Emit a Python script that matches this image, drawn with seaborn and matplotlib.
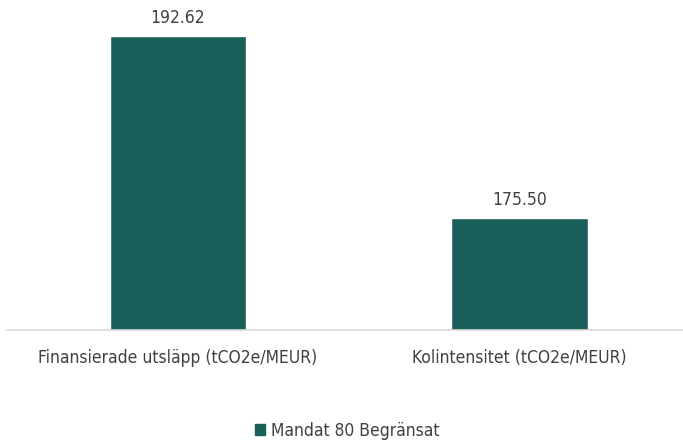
import pandas as pd
import matplotlib.pyplot as plt
import seaborn as sns
from matplotlib.patches import Patch

# Data
categories = ["Finansierade utsläpp (tCO2e/MEUR)", "Kolintensitet (tCO2e/MEUR)"]
values = [192.62, 175.50]
series_name = "Mandat 80 Begränsat"

df = pd.DataFrame({"kategori": categories, "varde": values})

sns.set_style("white")
plt.rcParams['font.family'] = ['DejaVu Sans']
plt.rcParams['font.stretch'] = 'condensed'
text_color = "#404040"
bar_color = "#1b5f5b"

fig = plt.figure(figsize=(6.83, 4.43), dpi=100)
ax = fig.add_axes([0.0105, 0.255, 1.0, 0.72])

sns.barplot(x="kategori", y="varde", data=df, color=bar_color, width=0.4,
            saturation=1, ax=ax)

ax.set_ylim(165, 195)
ax.set_xlim(-0.5, 1.5)
for c in ax.containers:
    ax.bar_label(c, fmt="%.2f", padding=7, fontsize=12.5, color=text_color)

sns.despine(ax=ax, left=True)
ax.spines['bottom'].set_color("#d9d9d9")
ax.spines['bottom'].set_linewidth(1.2)
ax.set_yticks([])
ax.set_xlabel('')
ax.set_ylabel('')
ax.tick_params(axis='x', length=0, pad=14, labelsize=12.5, labelcolor=text_color)

fig.legend(handles=[Patch(color=bar_color, label=series_name)],
           loc='center', bbox_to_anchor=(0.508, 0.027), frameon=False,
           fontsize=12.5, labelcolor=text_color, handlelength=0.6, handleheight=0.6,
           handletextpad=0.3)

plt.savefig('out.png', dpi=100)
